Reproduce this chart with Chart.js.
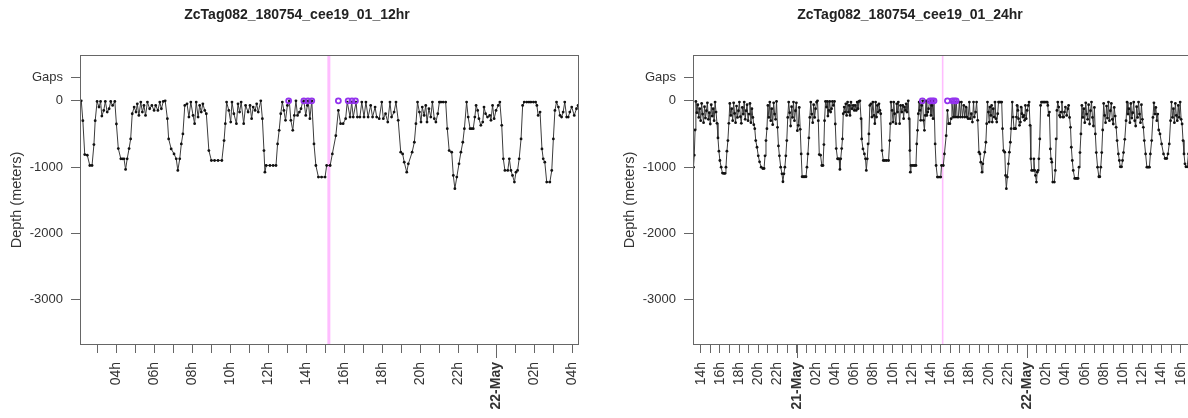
<!DOCTYPE html>
<html>
<head>
<meta charset="utf-8">
<script src="https://cdn.jsdelivr.net/npm/chart.js@4.4.1/dist/chart.umd.min.js"></script>
<style>
  body { margin: 0; background: #fff; width: 1188px; height: 418px; overflow: hidden; position: relative; }
  .panel { position: absolute; top: 0; width: 594px; height: 418px; }
</style>
</head>
<body>
<div class="panel" style="left:0"><canvas id="chart12" width="594" height="418"></canvas></div>
<div class="panel" style="left:613px"><canvas id="chart24" width="594" height="418"></canvas></div>
<script>
// time = minutes after 00:00 on 21 May, depth in meters
const depthTimes = [
  -645, -640, -635, -630, -624, -618, -612, -606, -600, -594, -588, -582, -576, -570, -564, -558,
  -552, -546, -540, -534, -528, -522, -516, -510, -504, -498, -492, -486, -480, -472, -464, -456,
  -448, -442, -436, -430, -424, -418, -412, -406, -400, -394, -388, -382, -376, -370, -364, -358,
  -352, -346, -340, -334, -328, -322, -316, -310, -304, -298, -292, -286, -280, -274, -268, -262,
  -256, -248, -240, -232, -222, -212, -204, -198, -192, -186, -180, -174, -168, -162, -156, -150,
  -144, -138, -132, -126, -120, -114, -108, -100, -92, -86, -80, -74, -68, -62, -56, -50,
  -44, -38, -32, -26, -20, -14, -8, -2, 4, 10, 16, 22, 28, 34, 42, 50,
  58, 64, 70, 76, 82, 88, 94, 100, 106, 112, 118, 124,
  130, 135, 141, 149, 157, 164, 170, 174, 180, 186, 191, 195, 201, 206, 212, 218,
  223, 229, 236, 241, 247, 255, 260, 265, 270, 275, 281, 286, 291, 297, 303, 307,
  312, 318, 323, 328, 333, 339, 346, 353, 360, 365, 372, 378, 383, 389, 395, 402,
  406, 414, 423, 430, 435, 441, 446, 451, 457, 464, 470, 476, 483, 488, 493, 499,
  504, 509, 514, 520, 525, 533, 541, 551, 562, 574, 581, 585, 589, 596, 602, 606,
  612, 620, 625, 630, 635, 643, 649, 657, 663, 668, 673, 679, 684, 689, 697, 702,
  707, 710, 714, 726, 736, 745, 750, 755, 760, 765, 770, 775, 781, 787, 792, 798,
  803, 808, 813, 819, 824, 829, 833, 839, 844, 847, 852, 858, 865, 871, 879, 889,
  900, 905, 916, 923, 934, 942, 949, 957, 965, 970, 979, 984, 989, 998, 1002, 1010,
  1016, 1023, 1029, 1036, 1044, 1050, 1058, 1063, 1071, 1079, 1084, 1091, 1098, 1105, 1110, 1118,
  1124, 1131, 1139, 1145, 1150, 1158, 1163, 1175, 1182, 1187, 1192, 1198, 1203, 1207, 1213, 1218,
  1222, 1228, 1234, 1239, 1245, 1250, 1256, 1261, 1266, 1273, 1281, 1286, 1292, 1300, 1305, 1310,
  1316, 1323, 1329, 1335, 1340, 1347, 1352, 1358, 1363, 1368, 1373, 1377, 1382, 1386, 1392, 1398,
  1402, 1407, 1413, 1420, 1424, 1429, 1434, 1440, 1447, 1452, 1458, 1463, 1468, 1477, 1482, 1487,
  1492, 1498, 1503, 1508, 1513, 1519, 1524, 1529, 1537, 1544, 1550, 1558, 1565, 1569, 1573, 1579,
  1585, 1589, 1594, 1600, 1610, 1616, 1621, 1626, 1631, 1637, 1642, 1647, 1652, 1657, 1663, 1668,
  1673, 1679, 1687, 1694, 1699,
  1705, 1711, 1716, 1722, 1728, 1737, 1745, 1752, 1758, 1764, 1770, 1776, 1782, 1788, 1794, 1800,
  1806, 1812, 1818, 1824, 1830, 1836, 1842, 1848, 1854, 1860, 1866, 1872, 1880, 1888, 1894, 1900,
  1906, 1912, 1918, 1924, 1930, 1936, 1942, 1948, 1954, 1960, 1966, 1972, 1978, 1984, 1990, 1996,
  2002, 2010, 2016, 2022, 2030, 2036, 2042, 2050, 2058, 2064, 2070, 2076, 2082, 2088, 2094, 2100,
  2106, 2112, 2118, 2124, 2130, 2136, 2142, 2148, 2154, 2160, 2166, 2172, 2180, 2188, 2196, 2204,
  2210, 2218, 2226, 2232, 2238, 2244, 2250, 2256, 2262, 2270, 2280, 2292, 2302, 2312, 2320, 2328,
  2336, 2342, 2348, 2354, 2360, 2366, 2372, 2378, 2384, 2390, 2396, 2402, 2408, 2414, 2420, 2426,
  2432, 2440, 2448
];
const depthValues = [
  -1000, -820, -440, -10, -180, -60, -250, -120, -300, -40, -200, -330, -90, -260, -150, -30,
  -280, -180, -350, -60, -230, -120, -300, -20, -170, -340, -560, -760, -900, -1000, -1090, -1095,
  -1095, -1000, -760, -600, -340, -40, -220, -120, -300, -30, -190, -330, -80, -250, -150, -20,
  -240, -340, -100, -200, -20, -280, -150, -60, -300, -200, -40, -330, -120, -250, -360, -420,
  -600, -700, -830, -920, -1000, -1020, -1020, -830, -600, -420, -70, -250, -20, -300, -120, -360,
  -30, -200, -280, -10, -400, -680, -830, -1000, -1100, -1220, -1100, -1000, -830, -600, -250, -20,
  -180, -380, -90, -250, -20, -300, -150, -30, -450, -370, -100, -430, -800, -1145, -1145, -1145,
  -1145, -1000, -800, -560, -250, -20, -200, -330, -60, -250, -120, -20,
  0, -300, -810, -820, -975, -975, -660, -300, -10, -95, -10, -230, -145, -10, -170, -120,
  -10, -70, -10, -350, -720, -875, -875, -875, -1035, -875, -720, -575, -195, -95, -170, -45,
  -220, -20, -170, -70, -220, -20, -120, -70, -145, -70, -145, -20, -120, -10, 0, -270,
  -575, -725, -800, -875, -1050, -875, -650, -500, -70, -45, -245, -20, -220, -345, -20, -245,
  -70, -170, -45, -145, -195, -750, -900, -900, -900, -900, -600, -345, -20, -145, -320, -20,
  -195, -345, -45, -170, -20, -345, -70, -170, -70, -270, -95, -145, -45, -170, 0, -270,
  -750, -1075, -975, -975, -975, -975, -650, -445, -195, -20, -145, -295, -70, 0, -295, -445,
  -220, 0, -220, -170, -120, -20, 0, -220, -70, 0, -270, 0, -650, -975, -1150, -1150,
  -1150, -975, -975, -800, -525, -145, -345, -345, -270, -20, -245, -20, -245, -20, -245, -245,
  -20, -245, -20, -245, -70, -245, -95, -245, -270, -20, -270, -195, -320, -20, -245, -170,
  -20, -295, -775, -800, -925, -1075, -950, -775, -625, -345, -20, -170, -320, -95, -220, -70,
  -320, -120, -245, -20, -270, -320, -195, -20, -20, -20, -20, -420, -750, -775, -1125, -1325,
  -1150, -950, -775, -625, -420, -20, -245, -420, -420, -420, -245, -70, -145, -270, -370, -320,
  -95, -195, -245, -220, -295, -70, -270, -145, -70, -20, -370, -875, -1050, -1050, -875, -1050,
  -1125, -1225, -1075, -1050, -875, -575, -70, -20, -20, -20, -20, -20, -20, -70, -220, -170,
  -725, -875, -925, -1225, -1225, -1050, -575, -145, -20, -95, -220, -245, -170, -20, -245, -245,
  -170, -95, -220, -120, -70,
  -250, -400, -700, -900, -1050, -1170, -1170, -1170, -1170, -1000, -780, -500, -70, -250, -120, -330,
  -30, -200, -280, -60, -350, -150, -20, -250, -380, -100, -500, -780, -1000, -1145, -1145, -1000,
  -780, -440, -40, -220, -330, -80, -260, -20, -300, -150, -40, -280, -350, -100, -230, -400,
  -600, -800, -900, -995, -995, -900, -780, -580, -300, -20, -200, -120, -330, -40, -260, -180,
  -20, -300, -380, -90, -250, -20, -200, -330, -60, -280, -400, -600, -800, -1000, -1000, -1000,
  -800, -600, -250, -30, -200, -100, -300, -200, -440, -500, -650, -800, -870, -870, -800, -650,
  -300, -20, -250, -120, -330, -40, -220, -300, -70, -250, -20, -280, -350, -600, -800, -950,
  -995, -995, -800
];
const gapTimes = [785, 833, 846, 858, 942, 973, 985, 996];
const gapDepths = [0, 0, 0, 0, 0, 0, 0, 0];
const markTimes = [912, 912];
const markDepths = [690, -3680];

const yTickValues = [350, 0, -1000, -2000, -3000];
const yTickLabels = ['Gaps', '0', '-1000', '-2000', '-3000'];
const dayTicks = [0, 1440];

const ticks12 = [180, 240, 300, 360, 420, 480, 540, 600, 660, 720, 780, 840, 900,
  960, 1020, 1080, 1140, 1200, 1260, 1320, 1380, 1440, 1500, 1560, 1620, 1680];
const labels12 = ['', '04h', '', '06h', '', '08h', '', '10h', '', '12h', '', '14h', '',
  '16h', '', '18h', '', '20h', '', '22h', '', '22-May', '', '02h', '', '04h'];

const ticks24 = [-600, -540, -480, -420, -360, -300, -240, -180, -120, -60, 0, 60, 120,
  180, 240, 300, 360, 420, 480, 540, 600, 660, 720, 780, 840, 900, 960, 1020, 1080, 1140,
  1200, 1260, 1320, 1380, 1440, 1500, 1560, 1620, 1680, 1740, 1800, 1860, 1920, 1980, 2040,
  2100, 2160, 2220, 2280, 2340, 2400];
const labels24 = ['14h', '', '16h', '', '18h', '', '20h', '', '22h', '', '21-May', '', '02h',
  '', '04h', '', '06h', '', '08h', '', '10h', '', '12h', '', '14h', '', '16h', '', '18h', '',
  '20h', '', '22h', '', '22-May', '', '02h', '', '04h', '', '06h', '', '08h', '', '10h', '',
  '12h', '', '14h', '', '16h'];

const FONT = '"Liberation Sans", Arial, Helvetica, sans-serif';
const AXIS = '#666';
const TEXT = '#333';

// full box round the plot and longer ticks at midnight
const framePlugin = {
  id: 'frame',
  afterDraw(chart) {
    const { ctx, chartArea: a, scales: { x } } = chart;
    ctx.save();
    ctx.strokeStyle = AXIS;
    ctx.lineWidth = 1;
    ctx.strokeRect(a.left + 0.5, a.top + 0.5, a.width - 1, a.height - 1);
    dayTicks.forEach(v => {
      if (v < x.min || v > x.max) return;
      const px = Math.round(x.getPixelForValue(v)) + 0.5;
      ctx.beginPath();
      ctx.moveTo(px, a.bottom);
      ctx.lineTo(px, a.bottom + 13);
      ctx.stroke();
    });
    ctx.restore();
  }
};

function drawPanel(id, title, xMin, xMax, tickValues, tickLabels, markWidth) {
  new Chart(document.getElementById(id), {
    type: 'line',
    data: {
      datasets: [
        {
          data: gapTimes.map((t, i) => ({ x: t, y: gapDepths[i] })),
          showLine: false,
          pointStyle: 'circle',
          pointRadius: 2.5,
          pointBackgroundColor: 'rgba(0,0,0,0)',
          pointBorderColor: '#9433ee',
          pointBorderWidth: 1.8
        },
        {
          data: depthTimes.map((t, i) => ({ x: t, y: depthValues[i] })),
          borderColor: '#3c3c3c',
          borderWidth: 1,
          pointRadius: 1.4,
          pointBackgroundColor: '#111',
          pointBorderWidth: 0
        },
        {
          data: markTimes.map((t, i) => ({ x: t, y: markDepths[i] })),
          borderColor: '#ffbdff',
          borderWidth: markWidth,
          pointRadius: 0
        }
      ]
    },
    options: {
      responsive: false,
      animation: false,
      events: [],
      layout: { padding: 0 },
      plugins: {
        legend: { display: false },
        tooltip: { enabled: false },
        title: {
          display: true,
          text: title,
          color: '#222',
          font: { family: FONT, size: 14, weight: 'bold' },
          padding: { top: 7, bottom: 31.2 }
        }
      },
      scales: {
        x: {
          type: 'linear',
          min: xMin,
          max: xMax,
          afterBuildTicks: axis => { axis.ticks = tickValues.map(v => ({ value: v })); },
          afterFit: axis => {
            axis.height = 73;
            axis.paddingLeft = 0;
            axis.paddingRight = 0;
          },
          border: { display: false },
          grid: { drawOnChartArea: false, drawTicks: true, tickLength: 8, tickColor: AXIS },
          ticks: {
            autoSkip: false,
            minRotation: 90,
            maxRotation: 90,
            padding: 9,
            color: TEXT,
            font: c => ({
              family: FONT,
              size: 14,
              weight: c.tick && dayTicks.includes(c.tick.value) ? 'bold' : 'normal'
            }),
            callback: (v, i) => tickLabels[i]
          }
        },
        y: {
          type: 'linear',
          min: -3680,
          max: 690,
          afterBuildTicks: axis => { axis.ticks = yTickValues.map(v => ({ value: v })); },
          afterFit: axis => { axis.width = 80; },
          border: { display: false },
          grid: { drawOnChartArea: false, drawTicks: true, tickLength: 9, tickColor: AXIS },
          ticks: {
            padding: 8,
            color: TEXT,
            font: { family: FONT, size: 13 },
            callback: (v, i) => yTickLabels[i]
          },
          title: {
            display: true,
            text: 'Depth (meters)',
            color: TEXT,
            font: { family: FONT, size: 14.5 },
            padding: { top: 8, bottom: 0 }
          }
        },
        yRight: {
          position: 'right',
          afterFit: axis => { axis.width = 15; },
          border: { display: false },
          grid: { display: false },
          ticks: { display: false }
        }
      }
    },
    plugins: [framePlugin]
  });
}

drawPanel('chart12', 'ZcTag082_180754_cee19_01_12hr', 126, 1702, ticks12, labels12, 3);
drawPanel('chart24', 'ZcTag082_180754_cee19_01_24hr', -648, 2470, ticks24, labels24, 1.6);
</script>
</body>
</html>
